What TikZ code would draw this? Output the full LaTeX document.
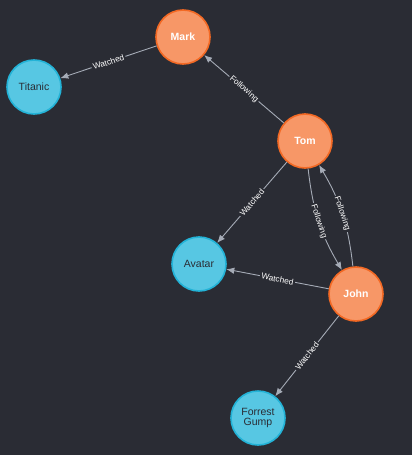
\documentclass[tikz,border=0pt]{standalone}
\usepackage{fontspec}
\setmainfont{Liberation Sans}
\usetikzlibrary{arrows.meta,positioning}
\definecolor{bgcol}{HTML}{2A2C34}
\definecolor{personfill}{HTML}{F79767}
\definecolor{persondraw}{HTML}{F36924}
\definecolor{moviefill}{HTML}{57C7E3}
\definecolor{moviedraw}{HTML}{23B3D7}
\definecolor{relcol}{HTML}{A5ABB6}

\begin{document}
\begin{tikzpicture}[x=1pt,y=-1pt,
	person/.style={circle,minimum size=54pt,inner sep=0pt,fill=personfill,draw=persondraw,line width=1.6pt,text=white,font=\fontsize{10.5}{10.5}\selectfont\bfseries},
	movie/.style={circle,minimum size=54pt,inner sep=0pt,fill=moviefill,draw=moviedraw,line width=1.6pt,text=bgcol,align=center,font=\fontsize{10.5}{10.5}\selectfont},
	rel/.style={draw=relcol,line width=0.9pt,-{Latex[length=8pt,width=6.5pt]}},
	lbl/.style={sloped,fill=bgcol,text=white,inner sep=1.5pt,font=\fontsize{8.3}{9}\selectfont}]
	\fill[bgcol] (0,0) rectangle (412,455);
	% people
	\node[person] (mark) at (183,37) {Mark};
	\node[person] (tom) at (305,141) {Tom};
	\node[person] (john) at (356,294) {John};
	% movies
	\node[movie] (titanic) at (34,87) {Titanic};
	\node[movie] (avatar) at (199,264) {Avatar};
	\node[movie] (forrest) at (258,418) {Forrest\\Gump};
	% relations
	\draw[rel] (mark) -- node[lbl] {Watched} (titanic);
	\draw[rel] (tom) -- node[lbl] {Following} (mark);
	\draw[rel] (tom) -- node[lbl] {Watched} (avatar);
	\draw[rel] (tom) to[bend right=12] node[lbl] {Following} (john);
	\draw[rel] (john) to[bend right=12] node[lbl] {Following} (tom);
	\draw[rel] (john) -- node[lbl] {Watched} (avatar);
	\draw[rel] (john) -- node[lbl] {Watched} (forrest);
\end{tikzpicture}
\end{document}
